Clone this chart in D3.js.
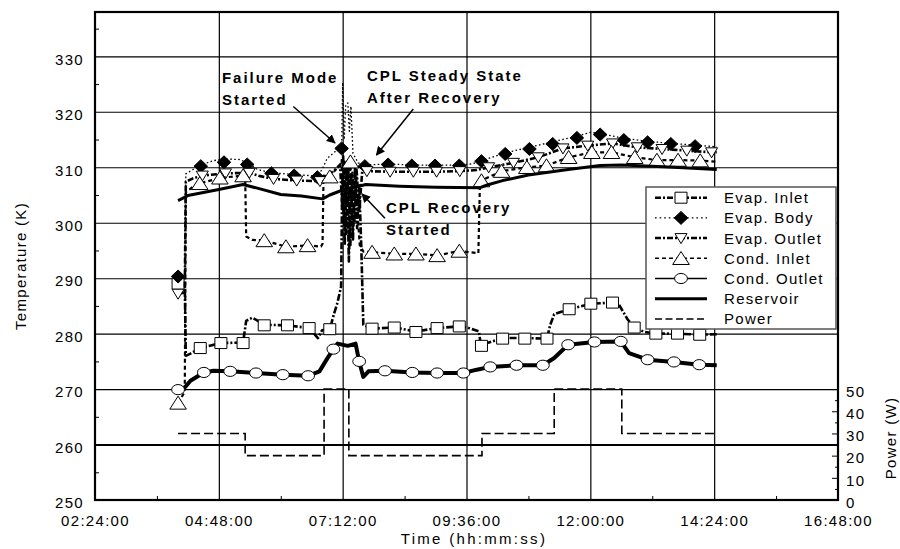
<!DOCTYPE html>
<html><head><meta charset="utf-8">
<script src="https://cdn.jsdelivr.net/npm/d3@7/dist/d3.min.js"></script>
<style>
html,body{margin:0;padding:0;background:#fff;}
svg text{font-family:"Liberation Sans",Arial,sans-serif;fill:#000;}
</style></head><body>
<svg id="chart" width="900" height="549"></svg>
<script>
// ---------- data (time in hours, temperature in K, power in W) ----------
const timeTickLabels = ["02:24:00","04:48:00","07:12:00","09:36:00","12:00:00","14:24:00","16:48:00"];
const tempTicks = [250,260,270,280,290,300,310,320,330];
const powerTicks = [0,10,20,30,40,50];
const seriesNames = ["Evap. Inlet","Evap. Body","Evap. Outlet","Cond. Inlet","Cond. Outlet","Reservoir","Power"];

const evapInletLine = [[4.01,288.8],[4.14,289.0],[4.16,276.0],[4.25,276.4],[4.44,277.4],[4.84,278.3],[5.27,278.4],[5.33,282.3],[5.45,282.9],[5.68,281.6],[6.13,281.5],[6.55,281.0],[6.72,279.2],[6.80,280.6],[6.95,280.8],[7.03,283.5],[7.10,285.6],[7.17,288.5],[7.19,306],[7.21,312],[7.24,296],[7.28,311],[7.32,293],[7.36,309],[7.40,297],[7.44,310],[7.48,299],[7.52,307],[7.56,296],[7.60,281.6],[7.77,280.9],[8.20,281.1],[8.62,280.4],[9.03,281.0],[9.46,281.3],[9.62,281.1],[9.84,280.4],[9.88,277.8],[10.00,278.3],[10.30,279.2],[10.73,279.2],[11.16,279.1],[11.22,281.5],[11.30,283.5],[11.59,284.4],[12.01,285.4],[12.43,285.6],[12.55,285.3],[12.72,282.6],[12.85,281.1],[13.05,280.3],[13.27,280.0],[13.69,280.0],[14.12,279.8],[14.45,279.9]];
const evapInletMarks = [[4.01,289.0],[4.44,277.4],[4.84,278.3],[5.27,278.3],[5.68,281.5],[6.13,281.5],[6.55,281.0],[6.95,280.8],[7.77,280.9],[8.20,281.1],[8.62,280.3],[9.03,281.0],[9.46,281.3],[9.89,277.8],[10.30,279.1],[10.73,279.1],[11.16,279.1],[11.59,284.4],[12.01,285.4],[12.43,285.6],[12.85,281.1],[13.27,280.0],[13.69,280.0],[14.12,279.8]];

const evapBodyLine = [[4.01,290.3],[4.14,290.5],[4.16,308.8],[4.30,309.6],[4.45,310.4],[4.70,311.2],[4.90,311.5],[5.20,311.4],[5.35,310.8],[5.55,309.6],[5.82,309.0],[6.26,308.7],[6.71,308.4],[6.80,309.6],[6.90,311.6],[7.05,312.8],[7.18,313.5],[7.20,325.3],[7.23,315],[7.26,321.3],[7.30,321.6],[7.33,316.5],[7.36,321],[7.40,312.5],[7.50,310.8],[7.63,310.4],[8.08,310.6],[8.54,310.4],[8.99,310.4],[9.46,310.4],[9.70,310.6],[9.89,311.2],[10.35,312.6],[10.82,313.6],[11.27,314.6],[11.74,315.6],[12.00,316.3],[12.19,316.1],[12.65,315.2],[13.11,314.7],[13.56,314.3],[14.03,314.0],[14.45,313.7]];
const evapBodyMarks = [[4.01,290.3],[4.45,310.2],[4.90,310.9],[5.35,310.5],[5.82,308.9],[6.26,308.5],[6.71,308.2],[7.18,313.4],[7.63,310.2],[8.08,310.5],[8.54,310.3],[8.99,310.3],[9.46,310.3],[9.89,311.1],[10.35,312.4],[10.82,313.3],[11.27,314.2],[11.74,315.3],[12.19,315.9],[12.65,314.9],[13.11,314.5],[13.56,314.2],[14.03,313.8]];

const evapOutletLine = [[4.01,287.2],[4.14,287.4],[4.16,307.4],[4.30,308.0],[4.48,308.5],[4.93,308.9],[5.39,309.0],[5.60,308.4],[5.86,307.9],[6.31,307.6],[6.76,307.5],[6.88,308.3],[7.02,309.3],[7.15,310.4],[7.19,303],[7.23,311],[7.27,298],[7.31,310],[7.35,296],[7.39,309],[7.43,300],[7.47,309.5],[7.52,302],[7.58,309.4],[7.67,309.3],[8.12,309.2],[8.57,309.2],[9.02,309.2],[9.47,309.3],[9.80,309.5],[10.03,310.0],[10.51,310.8],[10.99,311.8],[11.47,313.4],[11.95,313.9],[12.43,314.3],[12.91,313.6],[13.39,313.3],[13.87,313.0],[14.35,312.7],[14.45,312.7]];
const evapOutletMarks = [[4.01,287.2],[4.48,308.5],[4.93,308.9],[5.39,309.0],[5.86,307.9],[6.31,307.6],[6.76,307.5],[7.67,309.3],[8.12,309.2],[8.57,309.2],[9.02,309.2],[9.47,309.3],[10.03,310.0],[10.51,310.8],[10.99,311.8],[11.47,313.4],[11.95,313.9],[12.43,314.3],[12.91,313.6],[13.39,313.3],[13.87,313.0],[14.35,312.7]];

const condInletLine = [[4.01,267.5],[4.14,269.5],[4.16,305.5],[4.30,306.5],[4.43,307.1],[4.84,308.1],[5.27,308.5],[5.31,308.5],[5.33,297.5],[5.45,296.9],[5.68,296.8],[6.10,295.7],[6.55,295.9],[6.78,295.7],[6.81,296.2],[6.83,308.5],[6.95,308.3],[7.15,310.5],[7.18,311.3],[7.22,300],[7.27,310],[7.32,297],[7.35,311.0],[7.40,299],[7.46,306],[7.53,296],[7.60,294.8],[7.77,294.7],[8.20,294.4],[8.62,294.4],[9.03,294.1],[9.46,294.9],[9.83,294.5],[9.86,307.0],[9.89,307.6],[10.28,309.3],[10.77,310.0],[11.15,310.3],[11.58,311.8],[12.03,312.7],[12.41,312.7],[12.86,311.8],[13.29,311.3],[13.70,311.3],[14.13,311.2],[14.45,311.0]];
const condInletMarks = [[4.01,267.5],[4.43,307.1],[4.82,308.1],[5.27,308.5],[5.68,296.8],[6.10,295.7],[6.52,295.9],[6.95,308.3],[7.35,311.0],[7.77,294.7],[8.20,294.4],[8.62,294.4],[9.03,294.1],[9.46,294.9],[9.89,307.6],[10.28,309.3],[10.77,310.0],[11.15,310.3],[11.58,311.8],[12.03,312.7],[12.41,312.7],[12.86,311.8],[13.29,311.3],[13.70,311.3],[14.13,311.2]];

const condOutletLine = [[4.01,269.9],[4.14,270.3],[4.25,271.5],[4.51,273.0],[4.70,273.3],[5.02,273.2],[5.52,272.9],[6.04,272.6],[6.53,272.4],[6.75,273.2],[6.90,275.5],[7.02,277.2],[7.10,278.2],[7.30,277.8],[7.45,278.2],[7.52,275.0],[7.60,272.2],[7.70,273.2],[8.02,273.3],[8.55,273.0],[9.03,272.9],[9.54,272.9],[9.80,273.5],[10.06,274.0],[10.57,274.3],[11.08,274.3],[11.30,275.6],[11.57,278.0],[12.08,278.5],[12.59,278.6],[12.75,276.5],[13.11,275.3],[13.62,274.9],[14.11,274.4],[14.45,274.3]];
const condOutletMarks = [[4.01,269.9],[4.51,273.0],[5.02,273.2],[5.52,272.9],[6.04,272.6],[6.53,272.4],[7.02,277.2],[7.52,275.0],[8.02,273.3],[8.55,273.0],[9.03,272.9],[9.54,272.9],[10.06,274.0],[10.57,274.3],[11.08,274.3],[11.57,278.0],[12.08,278.5],[12.59,278.6],[13.11,275.3],[13.62,274.9],[14.11,274.4]];

const reservoirLine = [[4.01,304.0],[4.20,304.9],[4.80,306.0],[5.27,306.9],[5.60,306.1],[6.00,305.1],[6.40,304.8],[6.81,304.3],[6.95,305.0],[7.20,305.9],[7.65,306.9],[8.30,306.6],[9.00,306.4],[9.85,306.3],[10.00,306.8],[10.30,307.6],[10.80,308.6],[11.57,309.6],[12.19,310.3],[12.60,310.4],[13.20,310.2],[13.80,309.9],[14.45,309.6]];

const powerTimes  = [4.01, 5.31, 6.84, 7.32, 9.90, 11.30, 12.61, 14.45];
const powerValues = [30, 20, 50, 20, 30, 50, 30, 30];

// ---------- layout ----------
const svg = d3.select("#chart");
const L = 95, R = 838, T = 12, B = 500;
const x = d3.scaleLinear().domain([2.4, 16.8]).range([L, R]);
const y = d3.scaleLinear().domain([250, 338]).range([B, T]);
const p = d3.scaleLinear().domain([0, 220]).range([B, T]);
const hrs = s => { const [h,m,sec] = s.split(":").map(Number); return h + m/60 + sec/3600; };
const tickHours = timeTickLabels.map(hrs);
const labelOf = new Map(tickHours.map((h,i)=>[h.toFixed(3), timeTickLabels[i]]));

const TXT = {size:"15px", ls:"1.3px"};

// gridlines
svg.append("g").attr("transform",`translate(${L},0)`)
  .call(d3.axisLeft(y).tickValues(tempTicks.slice(1)).tickSize(-(R-L)).tickFormat(""))
  .call(g=>g.select(".domain").remove())
  .call(g=>g.selectAll("line").attr("stroke","#000").attr("stroke-width",d=>d===260?2:1.1));
svg.append("g").attr("transform",`translate(0,${B})`)
  .call(d3.axisBottom(x).tickValues(tickHours.slice(1,-1)).tickSize(-(B-T)).tickFormat(""))
  .call(g=>g.select(".domain").remove())
  .call(g=>g.selectAll("line").attr("stroke","#000").attr("stroke-width",1.2));

// minor ticks
const minorTemp = d3.range(255, 340, 10);
svg.append("g").attr("transform",`translate(${L},0)`)
  .call(d3.axisLeft(y).tickValues(minorTemp).tickSize(-4).tickFormat(""))
  .call(g=>g.select(".domain").remove());
const minorTime = tickHours.slice(0,-1).map((h,i)=>(h+tickHours[i+1])/2);
svg.append("g").attr("transform",`translate(0,${B})`)
  .call(d3.axisBottom(x).tickValues(minorTime).tickSize(-4).tickFormat(""))
  .call(g=>g.select(".domain").remove());
svg.append("g").attr("transform",`translate(${R},0)`)
  .call(d3.axisRight(p).tickValues(powerTicks).tickSize(-6).tickFormat(""))
  .call(g=>g.select(".domain").remove());
svg.append("g").attr("transform",`translate(${R},0)`)
  .call(d3.axisRight(p).tickValues(d3.range(5,50,10)).tickSize(-3).tickFormat(""))
  .call(g=>g.select(".domain").remove());

// tick labels
svg.append("g").attr("transform",`translate(${L},0)`)
  .call(d3.axisLeft(y).tickValues(tempTicks).tickSize(0).tickPadding(11))
  .call(g=>g.select(".domain").remove())
  .call(g=>g.selectAll("text").attr("dy","0.52em").style("font-size",TXT.size).style("letter-spacing",TXT.ls).attr("font-family",null));
svg.append("g").attr("transform",`translate(${R},0)`)
  .call(d3.axisRight(p).tickValues(powerTicks).tickSize(0).tickPadding(8))
  .call(g=>g.select(".domain").remove())
  .call(g=>g.selectAll("text").attr("dy","0.48em").style("font-size",TXT.size).style("letter-spacing",TXT.ls).attr("font-family",null));
svg.append("g").attr("transform",`translate(0,${B})`)
  .call(d3.axisBottom(x).tickValues(tickHours).tickSize(0).tickPadding(15).tickFormat(h=>labelOf.get(h.toFixed(3))))
  .call(g=>g.select(".domain").remove())
  .call(g=>g.selectAll("text").style("font-size",TXT.size).style("letter-spacing",TXT.ls).attr("font-family",null));

// axis titles
svg.append("text").attr("transform","translate(26,266) rotate(-90)").attr("text-anchor","middle")
  .style("font-size",TXT.size).style("letter-spacing",TXT.ls).text("Temperature (K)");
svg.append("text").attr("transform","translate(896,438) rotate(-90)").attr("text-anchor","middle")
  .style("font-size",TXT.size).style("letter-spacing",TXT.ls).text("Power (W)");
svg.append("text").attr("x",474).attr("y",544).attr("text-anchor","middle")
  .style("font-size",TXT.size).style("letter-spacing","2.3px").text("Time (hh:mm:ss)");

// ---------- series ----------
const line = d3.line().x(d=>x(d[0])).y(d=>y(d[1]));
const shapes = {
  square: "M-6,-5.5H6V5.5H-6Z",
  diamond: "M0,-6.5L6.8,0L0,6.5L-6.8,0Z",
  tridown: "M-6,-4.5H6L0,5.5Z",
  triup: "M0,-6.8L8.3,6.2H-8.3Z"
};
const series = [
  {name:seriesNames[0], line:evapInletLine, marks:evapInletMarks, w:2.6, dash:"7,2,2,2", lw:2.5, ldash:"6,2,2,2", shape:"square", fill:"#fff"},
  {name:seriesNames[1], line:evapBodyLine, marks:evapBodyMarks, w:1.3, dash:"1.6,2.4", lw:1.2, ldash:"1.6,3", shape:"diamond", fill:"#000"},
  {name:seriesNames[2], line:evapOutletLine, marks:evapOutletMarks, w:2.6, dash:"6,2,2,2", lw:2.5, ldash:"6,2,2,2", shape:"tridown", fill:"#fff"},
  {name:seriesNames[3], line:condInletLine, marks:condInletMarks, w:2.2, dash:"4,3", lw:1.5, ldash:"4,3", shape:"triup", fill:"#fff"},
  {name:seriesNames[4], line:condOutletLine, marks:condOutletMarks, w:4, dash:null, lw:1.5, ldash:null, shape:"circle", fill:"#fff"},
  {name:seriesNames[5], line:reservoirLine, marks:[], w:3, dash:null, lw:3, ldash:null, shape:null, fill:null}
];
function drawMarker(sel, shape, fill){
  if(shape==="circle"){
    sel.append("ellipse").attr("rx",6.4).attr("ry",5.1).attr("fill",fill).attr("stroke","#000").attr("stroke-width",1);
  } else {
    sel.append("path").attr("d",shapes[shape]).attr("fill",fill).attr("stroke","#000").attr("stroke-width",1);
  }
}
const plot = svg.append("g");
series.forEach(s=>{
  const g = plot.append("g");
  g.append("path").datum(s.line).attr("d",line).attr("fill","none").attr("stroke","#000")
    .attr("stroke-width",s.w).attr("stroke-dasharray",s.dash).attr("stroke-linejoin","round");
  g.selectAll("g.m").data(s.marks).join("g").attr("class","m")
    .attr("transform",d=>`translate(${x(d[0])},${y(d[1])})`)
    .each(function(){ drawMarker(d3.select(this), s.shape, s.fill); });
});
// power
const powerData = powerTimes.map((t,i)=>[t, powerValues[i]]);
plot.append("path").datum(powerData)
  .attr("d", d3.line().curve(d3.curveStepAfter).x(d=>x(d[0])).y(d=>p(d[1])))
  .attr("fill","none").attr("stroke","#000").attr("stroke-width",1.6).attr("stroke-dasharray","9,4");

// ---------- annotations ----------
svg.append("defs").append("marker").attr("id","ah").attr("viewBox","0 0 10 10").attr("refX",9).attr("refY",5)
  .attr("markerWidth",9).attr("markerHeight",9).attr("markerUnits","userSpaceOnUse").attr("orient","auto")
  .append("path").attr("d","M0,0L10,5L0,10Z").attr("fill","#000");
const notes = [
  {lines:["Failure Mode","Started"], at:[4.86,325.2], from:[6.243,320.96], to:[7.051,314.38]},
  {lines:["CPL Steady State","After Recovery"], at:[7.671,325.56], from:[8.569,320.51], to:[7.855,312.21]},
  {lines:["CPL Recovery","Started"], at:[8.039,301.84], from:[8.02,300.8], to:[7.574,305.18]}
];
notes.forEach(n=>{
  const t = svg.append("text").attr("x",x(n.at[0])).attr("y",y(n.at[1]))
    .style("font-size","15px").style("font-weight","bold").style("letter-spacing","2px");
  n.lines.forEach((l,i)=>t.append("tspan").attr("x",x(n.at[0])).attr("dy",i?22.5:0).text(l));
  svg.append("line").attr("x1",x(n.from[0])).attr("y1",y(n.from[1])).attr("x2",x(n.to[0])).attr("y2",y(n.to[1]))
    .attr("stroke","#000").attr("stroke-width",1.5).attr("marker-end","url(#ah)");
});

// plot border
svg.append("rect").attr("x",L).attr("y",T).attr("width",R-L).attr("height",B-T)
  .attr("fill","none").attr("stroke","#000").attr("stroke-width",2.2);

// ---------- legend ----------
const lg = svg.append("g").attr("transform","translate(646,187)");
lg.append("rect").attr("width",190).attr("height",142).attr("fill","#fff").attr("stroke","#555").attr("stroke-width",1.5);
const legendItems = series.concat([{name:seriesNames[6], lw:1.5, ldash:"7,3.5", shape:null}]);
legendItems.forEach((s,i)=>{
  const cy = 10.7 + 20.2*i;
  const r = lg.append("g").attr("transform",`translate(0,${cy})`);
  r.append("line").attr("x1",9).attr("x2",61).attr("stroke","#000").attr("stroke-width",s.lw).attr("stroke-dasharray",s.ldash);
  if(s.shape){ const m = r.append("g").attr("transform","translate(35,0)"); drawMarker(m, s.shape, s.fill); }
  r.append("text").attr("x",78).attr("y",5.5).style("font-size",TXT.size).style("letter-spacing",TXT.ls).text(s.name);
});
</script>
</body></html>
